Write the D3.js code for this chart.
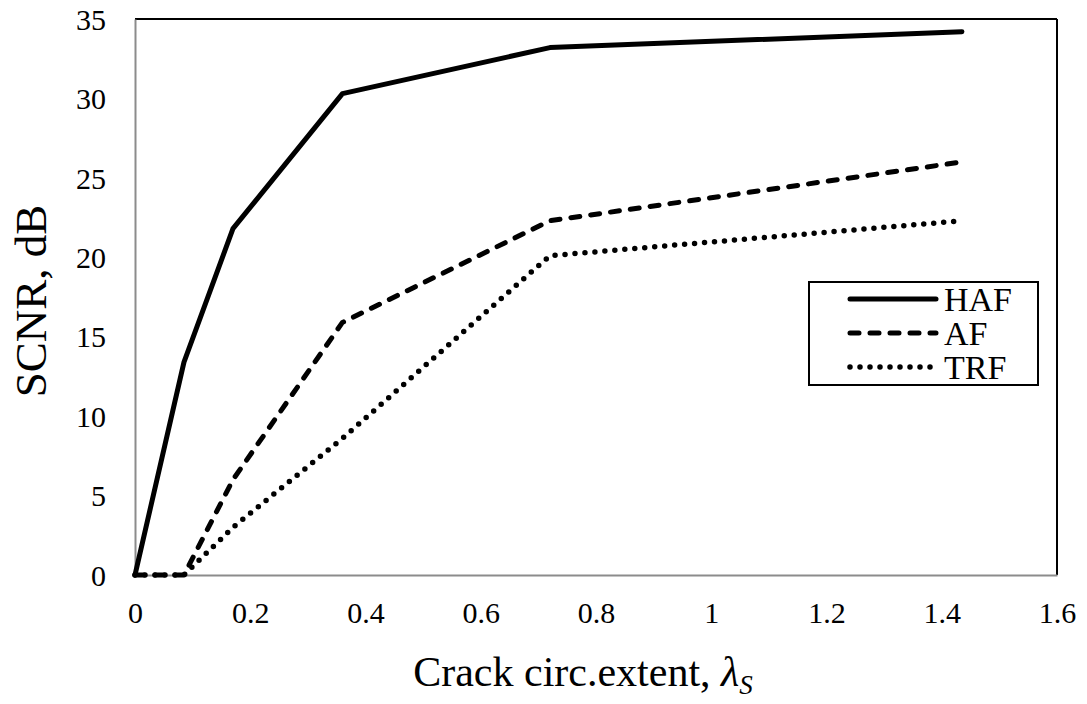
<!DOCTYPE html>
<html>
<head>
<meta charset="utf-8">
<script src="https://cdn.jsdelivr.net/npm/d3@7"></script>
<style>
body{margin:0;background:#fff;}
svg text{font-family:"Liberation Serif","Times New Roman",serif;fill:#000;}
</style>
</head>
<body>
<script>
// data
var lambda = [0, 0.085, 0.17, 0.36, 0.72, 1.435];
var haf = [0, 13.4, 21.8, 30.3, 33.2, 34.2];
var af  = [0, 0, 6.0, 15.9, 22.3, 26.0];
var trf = [0, 0, 3.0, 8.6, 20.1, 22.3];
var names = ['HAF', 'AF', 'TRF'];
var xTicks = [0, 0.2, 0.4, 0.6, 0.8, 1, 1.2, 1.4, 1.6];
var yTicks = [0, 5, 10, 15, 20, 25, 30, 35];

var width = 1087, height = 704,
	margin = {left:135, top:19, right:30, bottom:129},
	g_width = width - margin.left - margin.right,
	g_height = height - margin.top - margin.bottom;

var svg = d3.select('body').append('svg')
	.attr('width', width)
	.attr('height', height);
var g = svg.append('g').attr('transform', 'translate(' + margin.left + ',' + margin.top + ')');

var scale_x = d3.scaleLinear().domain([0, 1.6]).range([0, g_width]);
var scale_y = d3.scaleLinear().domain([0, 35]).range([g_height, 0]);

// frame: top/right black, axes grey
g.append('line').attr('x1', 0).attr('x2', g_width).attr('y1', 0).attr('y2', 0)
	.attr('stroke', '#000').attr('stroke-width', 2);
g.append('line').attr('x1', g_width).attr('x2', g_width).attr('y1', 0).attr('y2', g_height)
	.attr('stroke', '#000').attr('stroke-width', 2);

var x_axis = d3.axisBottom(scale_x).tickValues(xTicks).tickSize(0).tickPadding(27)
	.tickFormat(function(d){ return String(d); });
var y_axis = d3.axisLeft(scale_y).tickValues(yTicks).tickSize(0).tickPadding(29);

var gx = g.append('g').attr('transform', 'translate(0,' + g_height + ')').call(x_axis);
var gy = g.append('g').call(y_axis);
gx.attr('font-family', null).attr('font-size', null);
gy.attr('font-family', null).attr('font-size', null);
gx.select('.domain').attr('stroke', '#8c8c8c').attr('stroke-width', 2);
gy.select('.domain').attr('stroke', '#8c8c8c').attr('stroke-width', 2);
svg.selectAll('.tick text')
	.attr('font-family', 'Times New Roman')
	.attr('font-size', 30)
	.style('font-size', '30px');
gy.selectAll('.tick text').attr('dy', '0.34em');

// lines
var styles = [
	{dash: null, cap: 'round', w: 5},
	{dash: '9,11', cap: 'round', w: 5},
	{dash: '0,10', cap: 'round', w: 5.5}
];
var series = [haf, af, trf];
var line_generator = d3.line()
	.x(function(d, i){ return scale_x(lambda[i]); })
	.y(function(d){ return scale_y(d); });

series.forEach(function(s, k){
	g.append('path').attr('d', line_generator(s))
		.attr('fill', 'none').attr('stroke', '#000')
		.attr('stroke-width', styles[k].w)
		.attr('stroke-linecap', styles[k].cap)
		.attr('stroke-linejoin', 'round')
		.attr('stroke-dasharray', styles[k].dash);
});

// legend
var lg = svg.append('g').attr('transform', 'translate(809,282)');
lg.append('rect').attr('width', 229).attr('height', 103)
	.attr('fill', '#fff').attr('stroke', '#000').attr('stroke-width', 2);
names.forEach(function(n, k){
	var y = 17 + k * 34;
	lg.append('line').attr('x1', 41).attr('x2', 127).attr('y1', y).attr('y2', y)
		.attr('stroke', '#000').attr('stroke-width', styles[k].w)
		.attr('stroke-linecap', styles[k].cap)
		.attr('stroke-dasharray', styles[k].dash);
	lg.append('text').attr('x', 135).attr('y', y + 12).style('font-size', '34px').text(n);
});

// axis titles
var xt = svg.append('text').attr('x', 583).attr('y', 686).attr('text-anchor', 'middle')
	.style('font-size', '42px');
xt.append('tspan').text('Crack circ.extent, ');
xt.append('tspan').style('font-style', 'italic').text('λ');
xt.append('tspan').style('font-style', 'italic').style('font-size', '27px').attr('dy', 8).text('S');

svg.append('text').attr('transform', 'translate(46,301) rotate(-90)')
	.attr('text-anchor', 'middle').style('font-size', '45px').text('SCNR, dB');
</script>
</body>
</html>
